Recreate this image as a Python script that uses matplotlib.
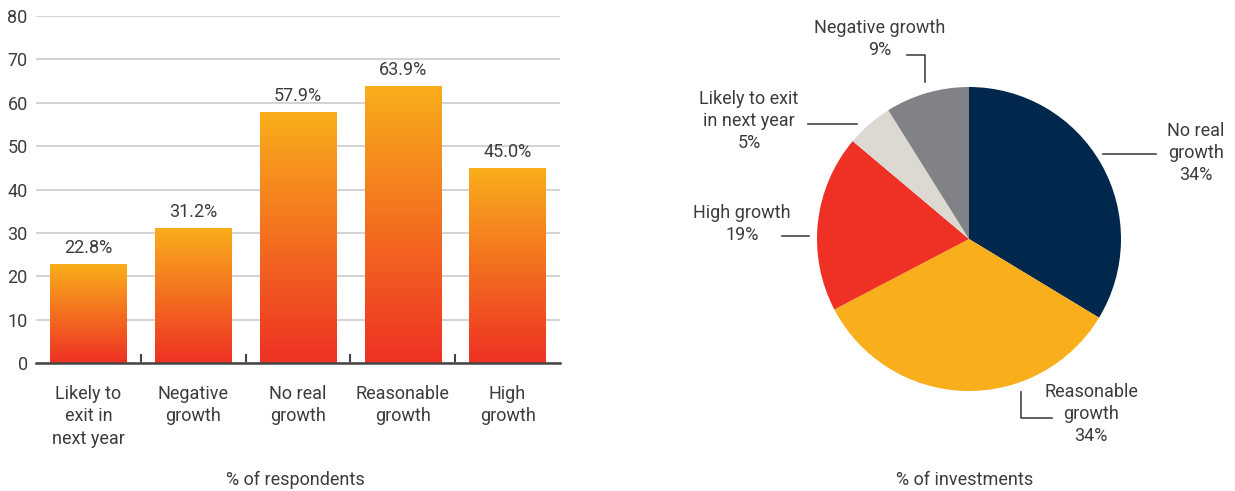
import numpy as np
import matplotlib.pyplot as plt
from matplotlib.colors import LinearSegmentedColormap

# data
categories = ["Likely to\nexit in\nnext year", "Negative\ngrowth", "No real\ngrowth",
              "Reasonable\ngrowth", "High\ngrowth"]
respondents = [22.8, 31.2, 57.9, 63.9, 45.0]

pie_labels = ["No real\ngrowth", "Reasonable\ngrowth", "High growth",
              "Likely to exit\nin next year", "Negative growth"]
investments = [34, 34, 19, 5, 9]
pie_colors = ["#00274c", "#f9ae1b", "#ee3124", "#dcd9d3", "#808285"]

plt.rcParams['font.family'] = ['Roboto', 'DejaVu Sans']
txt = "#3c3c3c"
fs = 13
W, H = 1235, 491

fig = plt.figure(figsize=(W / 100, H / 100), dpi=100)

# ---- left: bar chart with gradient bars ----
ax = fig.add_axes([36 / W, (H - 363) / H, 524 / W, 347 / H])
x = np.arange(len(categories))
bars = ax.bar(x, respondents, width=0.73, color="none", zorder=2)

cmap = LinearSegmentedColormap.from_list("grad", ["#ee3124", "#f9ae1b"])
grad = np.linspace(0, 1, 256).reshape(-1, 1)
for b in bars:
    x0, w, h = b.get_x(), b.get_width(), b.get_height()
    im = ax.imshow(grad, extent=[x0, x0 + w, 0, h], origin="lower",
                   aspect="auto", cmap=cmap, zorder=2)
    im.set_clip_path(b)

for i, v in enumerate(respondents):
    ax.annotate(f"{v:.1f}%", (i, v), xytext=(0, 5), textcoords="offset points",
                ha="center", va="bottom", fontsize=fs, color=txt)

ax.set_xlim(-0.5, len(categories) - 0.5)
ax.set_ylim(0, 80)
ax.set_yticks(range(0, 81, 10))
ax.set_xticks(x)
ax.set_xticklabels(categories, linespacing=1.3)
ax.set_xticks(x[:-1] + 0.5, minor=True)
ax.yaxis.grid(True, color="#cccccc", lw=1.2, zorder=0)
ax.set_axisbelow(True)
for s in ["top", "right", "left"]:
    ax.spines[s].set_visible(False)
ax.spines["bottom"].set_color("#444444")
ax.spines["bottom"].set_linewidth(1.8)
ax.spines["bottom"].set_zorder(5)
ax.tick_params(axis="x", which="major", length=0, pad=16, labelsize=fs, labelcolor=txt)
ax.tick_params(axis="x", which="minor", direction="in", length=6.5, width=1.5, color="#444444")
ax.tick_params(axis="y", length=0, pad=6, labelsize=fs, labelcolor=txt)
fig.text(295 / W, 1 - 480 / H, "% of respondents", ha="center", va="center",
         fontsize=fs, color=txt)

# ---- right: pie chart with leader lines ----
pax = fig.add_axes([817 / W, (H - 391) / H, 304 / W, 304 / H])
pax.pie(investments, colors=pie_colors, startangle=90, counterclock=False,
        wedgeprops=dict(linewidth=0))
pax.set_xlim(-1, 1)
pax.set_ylim(-1, 1)

# label centres and leader lines in pie units (radius = 1)
label_pos = [(1.493, 0.566), (0.803, -1.151), (-1.493, 0.099), (-1.447, 0.776), (-0.586, 1.316)]
leaders = [
    [(0.882, 0.559), (1.230, 0.559)],
    [(0.342, -1.007), (0.342, -1.178), (0.546, -1.178)],
    [(-1.230, 0.020), (-1.053, 0.020)],
    [(-1.059, 0.757), (-0.737, 0.757)],
    [(-0.408, 1.211), (-0.289, 1.211), (-0.289, 1.033)],
]
for lab, val, (lx, ly), pts in zip(pie_labels, investments, label_pos, leaders):
    pax.text(lx, ly, f"{lab}\n{val}%", ha="center", va="center", fontsize=fs,
             color=txt, linespacing=1.3, clip_on=False)
    px, py = zip(*pts)
    pax.plot(px, py, color="#444444", lw=1.2, clip_on=False)

fig.text(965 / W, 1 - 480 / H, "% of investments", ha="center", va="center",
         fontsize=fs, color=txt)

fig.savefig("out.png", dpi=100)
